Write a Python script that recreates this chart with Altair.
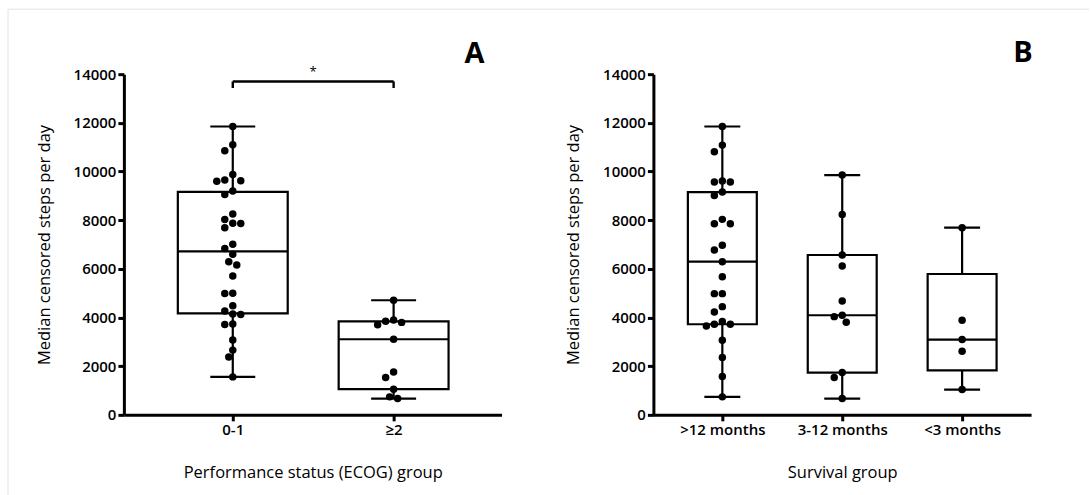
import altair as alt
import numpy as np
import pandas as pd

# ---- Data: median censored steps per day per patient ----
ecog_groups = ["0-1", "≥2"]
ecog_0_1 = [11850, 11100, 10850, 9880, 9650, 9620, 9600, 9200, 9050, 8250,
            8030, 7870, 7860, 7690, 7010, 6840, 6600, 6290, 6160, 5710,
            5000, 4990, 4480, 4270, 4140, 4120, 3730, 3710, 3080, 2660,
            2380, 1560]
ecog_2_plus = [4710, 3900, 3844, 3800, 3700, 3106, 1760, 1531, 1054, 739, 670]

survival_groups = [">12 months", "3-12 months", "<3 months"]
surv_over_12 = [11850, 11084, 10810, 9606, 9565, 9565, 9154, 9018, 8033, 7853,
                7853, 6965, 6773, 6293, 5678, 4981, 4981, 4447, 4228, 3832,
                3723, 3723, 3654, 3065, 2353, 1573, 739]
surv_3_to_12 = [9852, 8238, 6568, 6117, 4680, 4092, 4036, 3805, 1737, 1531, 670]
surv_under_3 = [7690, 3886, 3092, 2614, 1040]

Y_MAX = 14000
PLOT_W, PLOT_H = 378, 341
PX_PER_UNIT = PLOT_H / Y_MAX
FONT = "Open Sans"


def quantile_n1(vals, p):
    """Quartile using the (n+1) rank method."""
    s = sorted(vals)
    n = len(s)
    pos = p * (n + 1)
    lo = int(np.floor(pos))
    frac = pos - lo
    if lo < 1:
        return s[0]
    if lo >= n:
        return s[-1]
    return s[lo - 1] + frac * (s[lo] - s[lo - 1])


def swarm_offsets(values, step_px, dot=8.0, shift=4.0):
    """Simple beeswarm: nudge each dot sideways until it no longer overlaps."""
    order = sorted(range(len(values)), key=lambda i: -values[i])
    placed = []
    out = [0.0] * len(values)
    for i in order:
        y = values[i] * PX_PER_UNIT
        k = 0
        while True:
            cand = 0.0 if k == 0 else ((-1) ** k) * ((k + 1) // 2) * shift
            if all((cand - px) ** 2 + (y - py) ** 2 >= (dot - 0.2) ** 2 for px, py in placed):
                break
            k += 1
        placed.append((cand, y))
        out[i] = cand / step_px
    return out


def panel(groups, series, step_px, box_half_px, cap_half_px, domain, x_title,
          letter, letter_xy, extra=None):
    pts, boxes = [], []
    bh = box_half_px / step_px
    ch = cap_half_px / step_px
    for idx, vals in enumerate(series):
        offs = swarm_offsets(vals, step_px)
        for v, o in zip(vals, offs):
            pts.append({"idx": idx, "value": v, "xpos": idx + o})
        boxes.append({
            "idx": idx, "lo": idx - bh, "hi": idx + bh,
            "clo": idx - ch, "chi": idx + ch,
            "vmin": min(vals), "q1": quantile_n1(vals, 0.25),
            "med": quantile_n1(vals, 0.5), "q3": quantile_n1(vals, 0.75),
            "vmax": max(vals),
        })
    pts = pd.DataFrame(pts)
    boxes = pd.DataFrame(boxes)

    names = ",".join("'" + g + "'" for g in groups)
    xscale = alt.Scale(domain=domain, nice=False, zero=False)
    xaxis = alt.Axis(values=list(range(len(groups))),
                     labelExpr="[" + names + "][datum.value]",
                     title=x_title, grid=False)
    yscale = alt.Scale(domain=[0, Y_MAX], nice=False)
    yaxis = alt.Axis(values=list(range(0, Y_MAX + 1, 2000)), format="d",
                     title="Median censored steps per day", grid=False)

    def X(f):
        return alt.X(f + ":Q", scale=xscale, axis=xaxis)

    def Y(f):
        return alt.Y(f + ":Q", scale=yscale, axis=yaxis)

    line = dict(color="black", strokeWidth=2.2)
    base = alt.Chart(boxes)
    whisker = base.mark_rule(**line).encode(x=X("idx"), y=Y("vmin"), y2="vmax")
    cap_lo = base.mark_rule(**line).encode(x=X("clo"), x2="chi", y=Y("vmin"))
    cap_hi = base.mark_rule(**line).encode(x=X("clo"), x2="chi", y=Y("vmax"))
    box = base.mark_rect(fill="white", stroke="black", strokeWidth=2.2).encode(
        x=X("lo"), x2="hi", y=Y("q1"), y2="q3")
    median = base.mark_rule(**line).encode(x=X("lo"), x2="hi", y=Y("med"))
    dots = alt.Chart(pts).mark_circle(size=56, color="black", opacity=1).encode(
        x=X("xpos"), y=Y("value"))
    tag = alt.Chart(pd.DataFrame({"t": [letter]})).mark_text(
        font=FONT, fontSize=29, fontWeight="bold", color="black",
        align="center", baseline="middle").encode(
        text="t:N", x=alt.value(letter_xy[0]), y=alt.value(letter_xy[1]))

    layers = [whisker, cap_lo, cap_hi, box, median, dots, tag]
    if extra is not None:
        layers += extra(X, Y)
    return alt.layer(*layers).properties(width=PLOT_W, height=PLOT_H)


def significance(X, Y):
    """Bracket with asterisk between the two ECOG groups."""
    br = pd.DataFrame({"x": [0], "x2": [1], "y": [13700]})
    ticks = pd.DataFrame({"x": [0, 1], "y": [13700, 13700], "yb": [13430, 13430]})
    bar = alt.Chart(br).mark_rule(color="black", strokeWidth=2.4).encode(
        x=X("x"), x2="x2", y=Y("y"))
    legs = alt.Chart(ticks).mark_rule(color="black", strokeWidth=2.4).encode(
        x=X("x"), y=Y("y"), y2="yb")
    star = alt.Chart(pd.DataFrame({"x": [0.5], "y": [13700], "s": ["*"]})).mark_text(
        font=FONT, fontSize=13, color="black", baseline="bottom", dy=-2).encode(
        x=X("x"), y=Y("y"), text="s:N")
    frame = pd.DataFrame({"k": [0]})
    edge_v = alt.Chart(frame).mark_rule(color="#e4e4e4", strokeWidth=1).encode(
        x=alt.value(-116), y=alt.value(-65), y2=alt.value(422))
    edge_h = alt.Chart(frame).mark_rule(color="#e4e4e4", strokeWidth=1).encode(
        x=alt.value(-116), x2=alt.value(966), y=alt.value(-65))
    return [bar, legs, star, edge_v, edge_h]


panel_a = panel(ecog_groups, [ecog_0_1, ecog_2_plus], step_px=161,
                box_half_px=55, cap_half_px=22.5, domain=[-0.677, 1.671],
                x_title="Performance status (ECOG) group", letter="A",
                letter_xy=(351, -20), extra=significance)
panel_b = panel(survival_groups, [surv_over_12, surv_3_to_12, surv_under_3],
                step_px=120, box_half_px=34.5, cap_half_px=18,
                domain=[-0.575, 2.575], x_title="Survival group", letter="B",
                letter_xy=(370, -21))

chart = alt.hconcat(panel_a, panel_b, spacing=152, bounds="flush").properties(
    padding={"left": 7, "top": 8, "right": 0, "bottom": 0}
).configure_axis(
    domainColor="black", domainWidth=3, tickColor="black", tickWidth=3,
    tickSize=6, labelFont=FONT, labelFontWeight=600, labelFontSize=15,
    labelColor="black", labelPadding=2, titleFont=FONT, titleFontWeight="normal",
    titleFontSize=16.5, titleColor="black"
).configure_axisY(titlePadding=21).configure_axisX(titlePadding=27).configure_view(
    strokeWidth=0
)

chart.save("out.html", embed_options={"renderer": "svg", "actions": False})
